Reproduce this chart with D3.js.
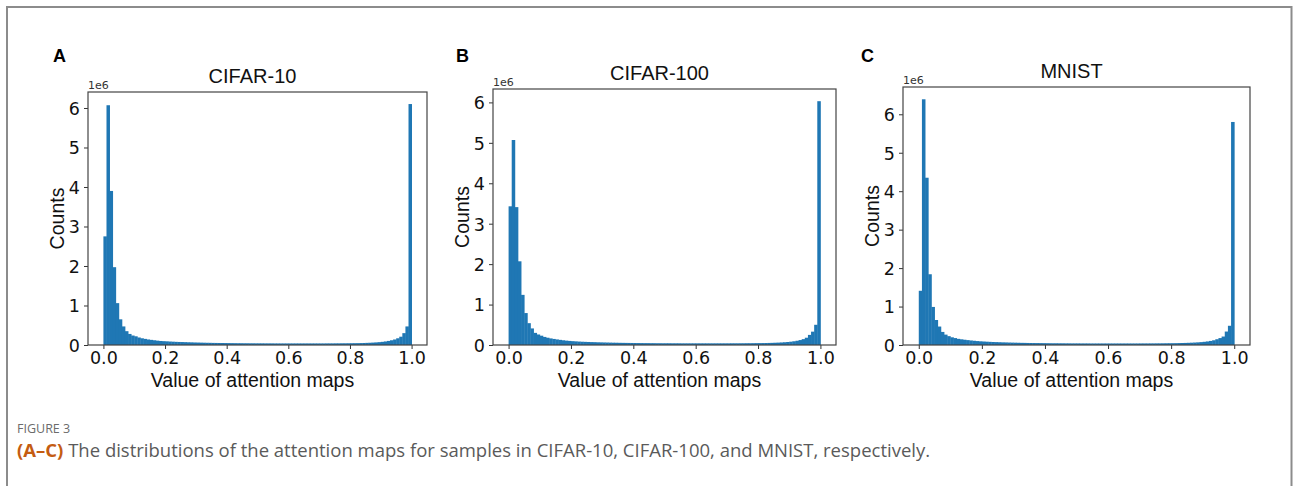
<!DOCTYPE html>
<html>
<head>
<meta charset="utf-8">
<script src="https://cdn.jsdelivr.net/npm/d3@7"></script>
<style>
  body { margin: 0; background: #fff; }
  svg { display: block; }
</style>
</head>
<body>
<svg width="1293" height="486"></svg>
<script>
// histogram counts (in units of 1e6), 100 bins of width 0.01 on [0, 1]
var cifar10 = [
  2.75, 6.07, 3.90, 1.97, 1.06, 0.65, 0.47, 0.35, 0.28, 0.24,
  0.22, 0.19, 0.17, 0.155, 0.14, 0.13, 0.12, 0.11, 0.102, 0.097,
  0.093, 0.088, 0.084, 0.080, 0.077, 0.075, 0.072, 0.069, 0.067, 0.064,
  0.062, 0.060, 0.058, 0.056, 0.055, 0.053, 0.052, 0.051, 0.050, 0.049,
  0.048, 0.047, 0.046, 0.045, 0.045, 0.044, 0.044, 0.043, 0.043, 0.042,
  0.042, 0.042, 0.041, 0.041, 0.041, 0.040, 0.040, 0.040, 0.040, 0.040,
  0.040, 0.040, 0.040, 0.040, 0.040, 0.040, 0.040, 0.040, 0.040, 0.040,
  0.040, 0.040, 0.041, 0.041, 0.041, 0.042, 0.042, 0.043, 0.043, 0.044,
  0.045, 0.046, 0.047, 0.049, 0.051, 0.054, 0.057, 0.061, 0.066, 0.072,
  0.080, 0.090, 0.103, 0.120, 0.140, 0.170, 0.210, 0.300, 0.470, 6.10
];
var cifar100 = [
  3.43, 5.07, 3.41, 2.07, 1.24, 0.79, 0.54, 0.41, 0.30, 0.26,
  0.23, 0.20, 0.18, 0.163, 0.15, 0.138, 0.127, 0.117, 0.108, 0.101,
  0.095, 0.090, 0.085, 0.081, 0.078, 0.075, 0.072, 0.070, 0.067, 0.065,
  0.063, 0.061, 0.059, 0.057, 0.056, 0.054, 0.053, 0.052, 0.051, 0.050,
  0.049, 0.048, 0.047, 0.046, 0.046, 0.045, 0.045, 0.044, 0.044, 0.043,
  0.043, 0.043, 0.042, 0.042, 0.042, 0.041, 0.041, 0.041, 0.041, 0.041,
  0.041, 0.041, 0.041, 0.041, 0.041, 0.041, 0.041, 0.041, 0.041, 0.041,
  0.041, 0.042, 0.042, 0.042, 0.043, 0.043, 0.044, 0.044, 0.045, 0.046,
  0.047, 0.048, 0.049, 0.051, 0.053, 0.056, 0.059, 0.063, 0.068, 0.074,
  0.082, 0.092, 0.105, 0.122, 0.145, 0.180, 0.250, 0.330, 0.500, 6.03
];
var mnist = [
  1.41, 6.39, 4.35, 1.84, 0.99, 0.65, 0.48, 0.34, 0.27, 0.23,
  0.20, 0.18, 0.16, 0.148, 0.137, 0.127, 0.118, 0.110, 0.102, 0.096,
  0.091, 0.086, 0.082, 0.078, 0.075, 0.072, 0.069, 0.067, 0.064, 0.062,
  0.060, 0.058, 0.056, 0.055, 0.053, 0.052, 0.051, 0.050, 0.049, 0.048,
  0.047, 0.046, 0.045, 0.045, 0.044, 0.044, 0.043, 0.043, 0.042, 0.042,
  0.042, 0.041, 0.041, 0.041, 0.040, 0.040, 0.040, 0.040, 0.040, 0.040,
  0.040, 0.040, 0.040, 0.040, 0.040, 0.040, 0.040, 0.040, 0.040, 0.040,
  0.041, 0.041, 0.041, 0.042, 0.042, 0.043, 0.043, 0.044, 0.045, 0.046,
  0.047, 0.048, 0.050, 0.052, 0.054, 0.057, 0.060, 0.064, 0.069, 0.075,
  0.083, 0.093, 0.106, 0.123, 0.150, 0.180, 0.220, 0.350, 0.500, 5.80
];

var panelLetters = ["A", "B", "C"];
var panelTitles = ["CIFAR-10", "CIFAR-100", "MNIST"];
var panelData = [cifar10, cifar100, mnist];
var xTicks = [0.0, 0.2, 0.4, 0.6, 0.8, 1.0];
var yTicks = [0, 1, 2, 3, 4, 5, 6];
var xLabel = "Value of attention maps";
var yLabel = "Counts";
var captionHead = "FIGURE 3";
var captionTag = "(A\u2013C)";
var captionText = " The distributions of the attention maps for samples in CIFAR-10, CIFAR-100, and MNIST, respectively.";

// plot boxes (left, top, right, bottom) of each axes in pixels
var boxes = [
  { l: 88, t: 92, r: 427, b: 345, lx: 53 },
  { l: 493, t: 89, r: 836, b: 345, lx: 456 },
  { l: 903, t: 87, r: 1250, b: 345, lx: 861 }
];

var svg = d3.select("svg");
var blue = "#1f77b4";

svg.append("rect").attr("width", 1293).attr("height", 486).attr("fill", "#fff");
// outer figure frame
svg.append("rect")
  .attr("x", 7).attr("y", 7).attr("width", 1284.5).attr("height", 520)
  .attr("fill", "none").attr("stroke", "#8c8c8c").attr("stroke-width", 2);

var edges = d3.range(0, 101).map(function (i) { return i / 100; });

panelData.forEach(function (vals, p) {
  var bx = boxes[p];
  var g = svg.append("g");
  var ymax = d3.max(vals) * 1.05;

  var x = d3.scaleLinear().domain([-0.05, 1.05]).range([bx.l, bx.r]);
  var y = d3.scaleLinear().domain([0, ymax]).range([bx.b, bx.t]);

  g.selectAll("rect.bar")
    .data(vals)
    .enter()
    .append("rect")
      .attr("class", "bar")
      .attr("x", function (d, i) { return x(edges[i]); })
      .attr("width", function (d, i) { return x(edges[i + 1]) - x(edges[i]) + 0.4; })
      .attr("y", function (d) { return y(d); })
      .attr("height", function (d) { return bx.b - y(d); })
      .attr("fill", blue);

  var xa = g.append("g")
    .attr("transform", "translate(0," + bx.b + ")")
    .call(d3.axisBottom(x).tickValues(xTicks).tickFormat(d3.format(".1f")).tickSize(4).tickPadding(3));
  var ya = g.append("g")
    .attr("transform", "translate(" + bx.l + ",0)")
    .call(d3.axisLeft(y).tickValues(yTicks).tickFormat(d3.format("d")).tickSize(4).tickPadding(4));

  [xa, ya].forEach(function (a) {
    a.select(".domain").remove();
    a.selectAll("line").attr("stroke", "#333").attr("stroke-width", 1);
    a.selectAll("text")
      .attr("fill", "#111")
      .style("font-family", "'DejaVu Sans', sans-serif")
      .style("font-size", "17.5px");
  });
  ya.selectAll("text").attr("dy", "0.36em");

  // spines
  g.append("rect")
    .attr("x", bx.l).attr("y", bx.t)
    .attr("width", bx.r - bx.l).attr("height", bx.b - bx.t)
    .attr("fill", "none").attr("stroke", "#444").attr("stroke-width", 1.2);

  // offset text
  g.append("text")
    .attr("x", bx.l).attr("y", bx.t - 3)
    .style("font-family", "'DejaVu Sans', sans-serif")
    .style("font-size", "11px")
    .attr("fill", "#333")
    .text("1e6");

  var cx = (bx.l + bx.r) / 2 - 5;

  g.append("text")
    .attr("x", cx).attr("y", bx.t - 9)
    .attr("text-anchor", "middle")
    .style("font-family", "'Liberation Sans', Arial, sans-serif")
    .style("font-size", "20px")
    .attr("fill", "#111")
    .text(panelTitles[p]);

  g.append("text")
    .attr("x", cx).attr("y", 387)
    .attr("text-anchor", "middle")
    .style("font-family", "'Liberation Sans', Arial, sans-serif")
    .style("font-size", "19.5px")
    .attr("fill", "#111")
    .text(xLabel);

  g.append("text")
    .attr("transform", "translate(" + (bx.l - 24) + "," + ((bx.t + bx.b) / 2) + ") rotate(-90)")
    .attr("text-anchor", "middle")
    .style("font-family", "'Liberation Sans', Arial, sans-serif")
    .style("font-size", "19.5px")
    .attr("fill", "#111")
    .text(yLabel);

  g.append("text")
    .attr("x", bx.lx).attr("y", 62)
    .style("font-family", "'Liberation Sans', Arial, sans-serif")
    .style("font-size", "18px")
    .style("font-weight", "bold")
    .attr("fill", "#000")
    .text(panelLetters[p]);
});

// caption
svg.append("text")
  .attr("x", 17).attr("y", 433)
  .style("font-family", "'Open Sans', sans-serif")
  .style("font-size", "12.5px")
  .attr("fill", "#6b6b6b")
  .text(captionHead);

var cap = svg.append("text")
  .attr("x", 17).attr("y", 457)
  .style("font-family", "'Open Sans', sans-serif")
  .style("font-size", "18.5px")
  .attr("fill", "#5a5a5a");
cap.append("tspan").style("font-weight", "bold").attr("fill", "#c45c12").text(captionTag);
cap.append("tspan").text(captionText);
</script>
</body>
</html>
